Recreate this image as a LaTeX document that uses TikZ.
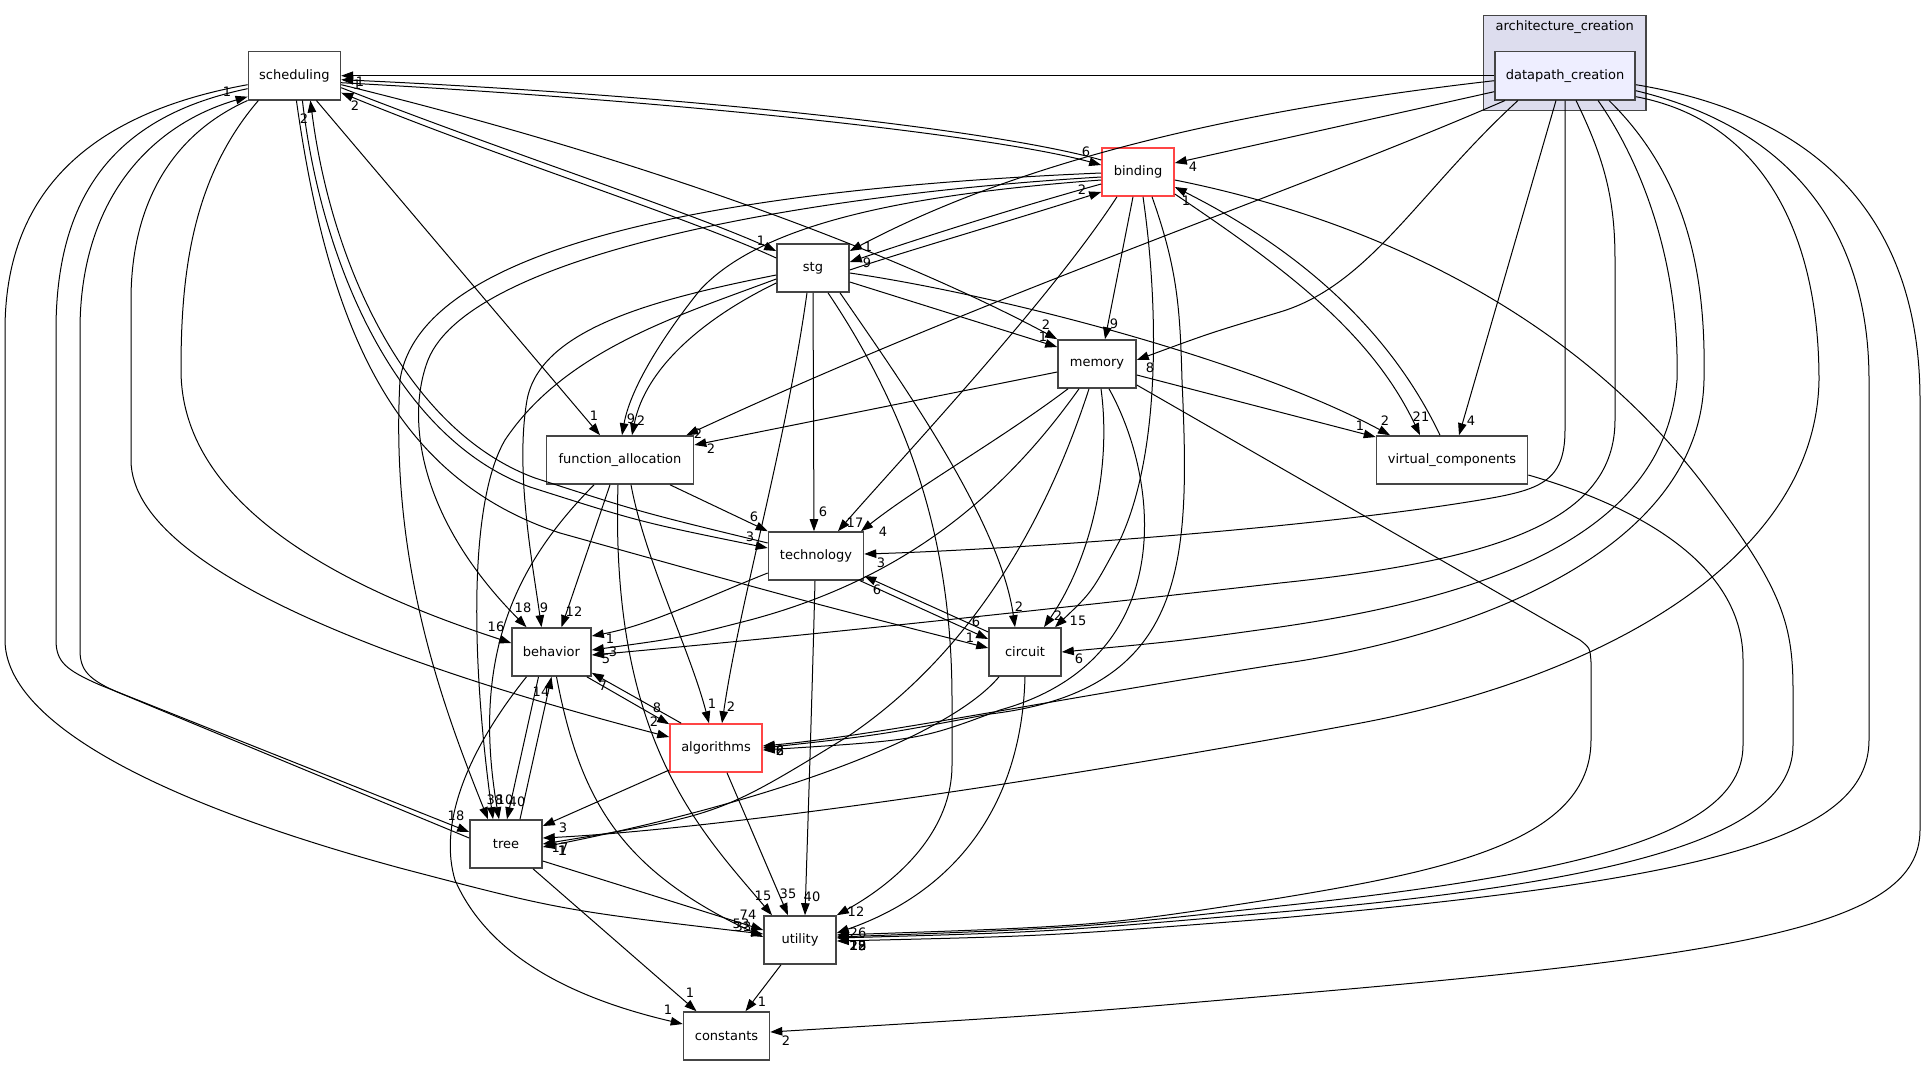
\documentclass[tikz,border=0pt]{standalone}
\usepackage{fontspec}
\setmainfont{DejaVu Sans}
\usetikzlibrary{arrows.meta}
\definecolor{boxgray}{HTML}{454545}
\definecolor{hotred}{HTML}{FF4545}
\definecolor{focusfill}{HTML}{EEEEFF}
\definecolor{clusterfill}{HTML}{DDDDEE}
\newcommand{\dirfont}{\fontsize{13}{15}\selectfont}

\begin{document}
\begin{tikzpicture}[
  x=1pt, y=-1pt,
  box/.style={draw=boxgray, line width=1.6pt, fill=white, minimum height=48pt, inner sep=0pt, font=\dirfont},
  hotbox/.style={box, draw=hotred},
  focusbox/.style={box, fill=focusfill},
  cluster/.style={draw=boxgray, line width=1.6pt, fill=clusterfill, inner sep=0pt},
  dep/.style={-{Triangle[length=12pt,width=8.5pt]}, line width=1pt},
  num/.style={font=\dirfont, inner sep=0pt}
]
\fill[white] (0,0) rectangle (1925,1065);
\useasboundingbox (0,0) rectangle (1925,1065);

% directories
\node[cluster, minimum width=162.5pt, minimum height=94.6pt] (archcluster) at (1564.85,63) {};
\node[font=\dirfont, inner sep=0pt] (archlabel) at (1564.7,27.3) {architecture\_creation};
\node[focusbox, minimum width=140pt] (dpc) at (1565,75.7) {datapath\_creation};
\node[box, minimum width=92pt] (sched) at (294.4,75.7) {scheduling};
\node[hotbox, minimum width=72pt] (binding) at (1138,172) {binding};
\node[box, minimum width=72pt] (stg) at (813,268) {stg};
\node[box, minimum width=78pt] (memory) at (1097,364) {memory};
\node[box, minimum width=147pt] (funcalloc) at (620,460) {function\_allocation};
\node[box, minimum width=151pt] (virtcomp) at (1452,460) {virtual\_components};
\node[box, minimum width=95pt] (technology) at (816,556) {technology};
\node[box, minimum width=72pt] (circuit) at (1025,652) {circuit};
\node[box, minimum width=79pt] (behavior) at (551.5,652) {behavior};
\node[hotbox, minimum width=92pt] (algorithms) at (716,748) {algorithms};
\node[box, minimum width=72pt] (tree) at (506,844) {tree};
\node[box, minimum width=72pt] (utility) at (800,940) {utility};
\node[box, minimum width=86pt] (constants) at (726.5,1036) {constants};

% datapath_creation
\draw[dep] (dpc.west) -- (sched.east) node[num, at={(357,85)}] {1};
\draw[dep] ([yshift=-16pt]dpc.west) -- ([yshift=9pt]binding.east) node[num, at={(1193,167)}] {4};
\draw[dep] ([yshift=-5pt]dpc.west) .. controls (1300,103) and (1050,145) .. ([yshift=17pt]stg.east) node[num, at={(868,247)}] {1};
\draw[dep] ([xshift=-60pt]dpc.south) .. controls (1300,190) and (1000,290) .. ([xshift=-8pt]funcalloc.north east) node[num, at={(698,434)}] {2};
\draw[dep] ([xshift=-47pt]dpc.south) .. controls (1420,190) and (1370,285) .. (1280,312) .. controls (1210,333) .. ([yshift=4pt]memory.east) node[num, at={(1150,368)}] {8};
\draw[dep] ([xshift=-9pt]dpc.south) -- ([xshift=7pt]virtcomp.north) node[num, at={(1471,421)}] {4};
\draw[dep] (dpc.south) -- (1565,430) .. controls (1565,482) and (1540,490) .. (1480,500) .. controls (1300,530) and (1000,550) .. ([yshift=2pt]technology.east) node[num, at={(881,563)}] {3};
\draw[dep] ([xshift=11pt]dpc.south) .. controls (1605,160) and (1615,200) .. (1615,260) -- (1615,420) .. controls (1615,520) and (1500,560) .. (1280,583) .. controls (1000,615) and (760,640) .. ([yshift=-3pt]behavior.east) node[num, at={(606,659)}] {5};
\draw[dep] ([xshift=33pt]dpc.south) .. controls (1640,160) and (1680,260) .. (1677,380) .. controls (1665,530) and (1500,595) .. (1280,627) .. controls (1180,641) .. (circuit.east) node[num, at={(1079,659)}] {6};
\draw[dep] ([xshift=44pt]dpc.south) .. controls (1690,180) and (1706,280) .. (1704,380) .. controls (1700,560) and (1450,640) .. (1280,664) .. controls (1050,700) and (880,735) .. ([yshift=2pt]algorithms.east) node[num, at={(780,751)}] {6};
\draw[dep] ([yshift=-21pt]dpc.east) .. controls (1760,120) and (1819,230) .. (1819,380) .. controls (1816,560) and (1600,680) .. (1350,725) .. controls (1000,790) and (700,830) .. ([yshift=6pt]tree.east) node[num, at={(562,851)}] {1};
\draw[dep] ([yshift=-15pt]dpc.east) .. controls (1800,130) and (1869,240) .. (1869,380) -- (1869,740) .. controls (1869,840) and (1700,880) .. (1280,918) .. controls (1050,936) .. ([yshift=-1pt]utility.east) node[num, at={(858,946)}] {23};
\draw[dep] ([yshift=-9pt]dpc.east) .. controls (1850,120) and (1920,250) .. (1920,400) -- (1920,830) .. controls (1920,925) and (1750,955) .. (1280,995) .. controls (1050,1015) .. ([yshift=4pt]constants.east) node[num, at={(786,1041)}] {2};

% scheduling
\draw[dep] ([yshift=-7pt]sched.east) .. controls (700,102) and (1000,137) .. ([yshift=7pt]binding.west) node[num, at={(1086,152)}] {6};
\draw[dep] ([yshift=-12pt]sched.east) .. controls (500,150) and (690,212) .. ([yshift=17pt]stg.west) node[num, at={(761,241)}] {1};
\draw[dep] ([yshift=-9pt]sched.east) .. controls (650,160) and (900,255) .. (memory.north west) node[num, at={(1046,325)}] {2};
\draw[dep] ([xshift=22pt]sched.south) -- ([xshift=-20pt]funcalloc.north) node[num, at={(594,416)}] {1};
\draw[dep] ([xshift=8pt]sched.south) .. controls (322,270) and (400,440) .. (530,487) .. controls (640,522) .. ([yshift=8pt]technology.west) node[num, at={(750,537)}] {3};
\draw[dep] ([xshift=2pt]sched.south) .. controls (330,340) and (400,480) .. (560,533) .. controls (800,600) .. ([yshift=4pt]circuit.west) node[num, at={(970,638)}] {1};
\draw[dep] ([xshift=-36pt]sched.south) .. controls (190,180) and (181,280) .. (181,370) .. controls (181,520) and (380,600) .. ([yshift=9pt]behavior.west) node[num, at={(496,627)}] {16};
\draw[dep] (sched.south west) .. controls (160,140) and (131,220) .. (131,300) -- (131,460) .. controls (131,580) and (450,680) .. ([yshift=11pt]algorithms.west) node[num, at={(654,722)}] {2};
\draw[dep] ([yshift=-13pt]sched.west) .. controls (120,115) and (56,190) .. (56,330) -- (56,640) .. controls (56,662) and (66,670) .. (100,685) -- ([yshift=12pt]tree.west) node[num, at={(456,816)}] {18};
\draw[dep] ([yshift=-9pt]sched.west) .. controls (80,115) and (5,200) .. (5,330) -- (5,640) .. controls (5,720) and (150,800) .. (400,868) .. controls (560,910) .. ([yshift=6pt]utility.west) node[num, at={(743,927)}] {33};

% binding
\draw[dep] ([yshift=12pt]binding.west) .. controls (1000,131) and (700,96) .. ([yshift=-4pt]sched.east) node[num, at={(360,82)}] {1};
\draw[dep] ([yshift=-12pt]binding.west) .. controls (1000,212) and (900,245) .. ([yshift=6pt]stg.east) node[num, at={(867,263)}] {9};
\draw[dep] ([xshift=-5pt]binding.south) -- ([xshift=8pt]memory.north) node[num, at={(1114,324)}] {9};
\draw[dep] ([yshift=-22pt]binding.east) .. controls (1280,265) and (1370,330) .. ([xshift=-32pt]virtcomp.north) node[num, at={(1421,417)}] {21};
\draw[dep] ([xshift=-21pt]binding.south) .. controls (1050,300) and (900,460) .. ([xshift=22pt]technology.north) node[num, at={(855,523)}] {17};
\draw[dep] ([xshift=5pt]binding.south) .. controls (1158,300) and (1162,450) .. (1120,540) .. controls (1092,592) .. ([xshift=30pt]circuit.north) node[num, at={(1078,621)}] {15};
\draw[dep] ([xshift=14pt]binding.south) .. controls (1178,270) and (1180,310) .. (1182,380) .. controls (1190,560) and (1190,690) .. (990,714) .. controls (880,735) .. (algorithms.east) node[num, at={(780,751)}] {8};
\draw[dep] ([yshift=-8pt]binding.east) .. controls (1350,215) and (1560,300) .. (1700,480) .. controls (1780,585) and (1793,620) .. (1793,690) -- (1793,745) .. controls (1793,830) and (1650,880) .. (1280,912) .. controls (1050,932) .. ([yshift=2pt]utility.east) node[num, at={(858,946)}] {18};
\draw[dep] ([yshift=-8pt]binding.west) .. controls (900,195) and (760,225) .. (700,290) .. controls (660,340) and (630,390) .. ([xshift=2pt]funcalloc.north) node[num, at={(631,419)}] {9};
\draw[dep] ([yshift=-5pt]binding.west) .. controls (800,195) and (470,255) .. (428,360) .. controls (405,420) and (420,520) .. ([xshift=-25pt]behavior.north) node[num, at={(523,608)}] {18};
\draw[dep] ([yshift=-1pt]binding.west) .. controls (700,190) and (420,250) .. (400,380) .. controls (390,560) and (440,700) .. ([xshift=-18pt]tree.north) node[num, at={(495,800)}] {38};

% stg
\draw[dep] ([yshift=10pt]stg.west) .. controls (690,218) and (500,158) .. ([yshift=-17pt]sched.east) node[num, at={(355,106)}] {2};
\draw[dep] ([yshift=-2pt]stg.east) .. controls (900,253) and (1000,224) .. ([yshift=-20pt]binding.west) node[num, at={(1082,190)}] {2};
\draw[dep] ([yshift=-14pt]stg.east) -- ([yshift=17pt]memory.west) node[num, at={(1043,337)}] {1};
\draw[dep] ([yshift=-5pt]stg.east) .. controls (1000,295) and (1250,360) .. ([xshift=-62pt]virtcomp.north) node[num, at={(1385,421)}] {2};
\draw[dep] ([yshift=-15pt]stg.west) .. controls (700,320) and (645,370) .. ([xshift=12pt]funcalloc.north) node[num, at={(641,421)}] {2};
\draw[dep] ([yshift=-7pt]stg.west) .. controls (650,300) and (540,330) .. (527,400) .. controls (515,470) and (532,560) .. ([xshift=-10pt]behavior.north) node[num, at={(544,608)}] {9};
\draw[dep] ([yshift=-11pt]stg.west) .. controls (680,315) and (565,350) .. (505,440) .. controls (470,500) and (470,650) .. ([xshift=-13pt]tree.north);
\draw[dep] (stg.south) -- ([xshift=-2pt]technology.north) node[num, at={(823,512)}] {6};
\draw[dep] ([xshift=-6pt]stg.south) .. controls (785,450) and (740,600) .. ([xshift=6pt]algorithms.north) node[num, at={(731,707)}] {2};
\draw[dep] ([xshift=15pt]stg.south) .. controls (920,430) and (952,560) .. (952,700) -- (952,765) .. controls (952,830) and (900,880) .. (utility.north east) node[num, at={(856,912)}] {12};
\draw[dep] ([xshift=27pt]stg.south) .. controls (900,380) and (1000,520) .. ([xshift=-10pt]circuit.north) node[num, at={(1019,607)}] {2};

% memory
\draw[dep] ([yshift=-8pt]memory.west) -- ([yshift=15pt]funcalloc.east) node[num, at={(711,449)}] {2};
\draw[dep] ([yshift=-11pt]memory.east) -- ([yshift=23pt]virtcomp.west) node[num, at={(1360,426)}] {1};
\draw[dep] ([yshift=-21pt]memory.east) -- (1580,640) .. controls (1590,648) .. (1591,662) -- (1591,740) .. controls (1591,840) and (1450,870) .. (1280,898) .. controls (1100,926) .. ([yshift=5pt]utility.east) node[num, at={(858,946)}] {22};
\draw[dep] ([xshift=-29pt]memory.south) .. controls (1000,440) and (920,485) .. ([xshift=45pt]technology.north) node[num, at={(883,532)}] {4};
\draw[dep] ([xshift=-18pt]memory.south) .. controls (1000,500) and (900,580) .. (750,620) .. controls (680,638) .. ([yshift=2pt]behavior.east) node[num, at={(613,652)}] {3};
\draw[dep] ([xshift=-8pt]memory.south) .. controls (1040,540) and (960,660) .. (850,735) .. controls (720,815) .. (tree.east) node[num, at={(560,848)}] {17};
\draw[dep] ([xshift=4pt]memory.south) .. controls (1112,470) and (1090,560) .. ([xshift=19pt]circuit.north) node[num, at={(1058,616)}] {2};
\draw[dep] ([xshift=12pt]memory.south) .. controls (1160,480) and (1180,660) .. (1000,710) .. controls (920,740) .. ([yshift=-2pt]algorithms.east) node[num, at={(780,751)}] {2};

% virtual_components
\draw[dep] ([xshift=-12pt]virtcomp.north) .. controls (1390,330) and (1300,250) .. ([yshift=-15pt]binding.east) node[num, at={(1186,201)}] {1};
\draw[dep] ([yshift=-15pt]virtcomp.east) .. controls (1650,510) and (1743,570) .. (1743,660) -- (1743,745) .. controls (1743,830) and (1600,872) .. (1280,906) .. controls (1080,928) .. ([yshift=3pt]utility.east) node[num, at={(858,946)}] {19};

% technology and circuit
\draw[dep] ([yshift=13pt]technology.west) .. controls (640,512) .. (535,478) .. controls (410,432) and (332,270) .. ([xshift=16pt]sched.south) node[num, at={(304,119)}] {2};
\draw[dep] ([yshift=-17pt]technology.west) .. controls (700,600) and (650,625) .. ([yshift=16pt]behavior.east) node[num, at={(610,639)}] {1};
\draw[dep] ([xshift=-1pt]technology.south) .. controls (812,700) and (808,820) .. ([xshift=5pt]utility.north) node[num, at={(812,897)}] {40};
\draw[dep] ([xshift=-4pt]technology.south east) -- ([yshift=13pt]circuit.west) node[num, at={(976,622)}] {6};
\draw[dep] ([yshift=20pt]circuit.west) -- ([yshift=-20pt]technology.east) node[num, at={(877,590)}] {6};
\draw[dep] ([xshift=-26pt]circuit.south) .. controls (950,735) and (780,800) .. ([yshift=-3pt]tree.east) node[num, at={(563,851)}] {1};
\draw[dep] (circuit.south) .. controls (1022,800) and (960,890) .. ([yshift=7pt]utility.east) node[num, at={(858,933)}] {26};

% function_allocation
\draw[dep] ([xshift=50pt]funcalloc.south) -- (technology.north west) node[num, at={(754,517)}] {6};
\draw[dep] ([xshift=-10pt]funcalloc.south) -- ([xshift=10pt]behavior.north) node[num, at={(574,612)}] {12};
\draw[dep] ([xshift=11pt]funcalloc.south) .. controls (645,560) and (690,650) .. ([xshift=-7pt]algorithms.north) node[num, at={(712,704)}] {1};
\draw[dep] ([xshift=-26pt]funcalloc.south) .. controls (520,560) and (470,650) .. ([xshift=-7pt]tree.north) node[num, at={(505,800)}] {10};
\draw[dep] ([xshift=-2pt]funcalloc.south) .. controls (610,740) and (700,830) .. ([xshift=-28pt]utility.north) node[num, at={(763,896)}] {15};

% behavior, algorithms, tree, utility
\draw[dep] ([xshift=-5pt]behavior.south east) -- ([yshift=-1pt]algorithms.north west) node[num, at={(657,708)}] {8};
\draw[dep] ([xshift=12pt]algorithms.north west) -- ([yshift=4pt]behavior.south east) node[num, at={(603,686)}] {7};
\draw[dep] ([xshift=-13pt]behavior.south) -- ([xshift=1pt]tree.north) node[num, at={(517,802)}] {40};
\draw[dep] ([xshift=14pt]tree.north) -- (behavior.south) node[num, at={(541,692)}] {14};
\draw[dep] ([xshift=5pt]behavior.south) .. controls (580,800) and (620,870) .. ([yshift=3pt]utility.west) node[num, at={(741,924)}] {53};
\draw[dep] ([xshift=-25pt]behavior.south) .. controls (460,760) and (440,830) .. (455,880) .. controls (490,960) and (580,1000) .. ([yshift=12pt]constants.west) node[num, at={(668,1010)}] {1};
\draw[dep] ([yshift=-22pt]algorithms.west) -- ([yshift=18pt]tree.east) node[num, at={(563,828)}] {3};
\draw[dep] ([xshift=11pt]algorithms.south) -- ([xshift=-12pt]utility.north) node[num, at={(788,894)}] {35};
\draw[dep] ([yshift=6pt]tree.west) -- (122,694) .. controls (88,680) and (80,670) .. (80,650) -- (80,330) .. controls (80,200) and (150,125) .. ([yshift=-21pt]sched.west) node[num, at={(227,92)}] {1};
\draw[dep] ([yshift=-17pt]tree.east) -- ([yshift=10pt]utility.west) node[num, at={(748,915)}] {74};
\draw[dep] ([xshift=27pt]tree.south) -- ([xshift=-30pt]constants.north) node[num, at={(690,993)}] {1};
\draw[dep] ([xshift=-19pt]utility.south) -- ([xshift=19pt]constants.north) node[num, at={(762,1002)}] {1};
\end{tikzpicture}
\end{document}
